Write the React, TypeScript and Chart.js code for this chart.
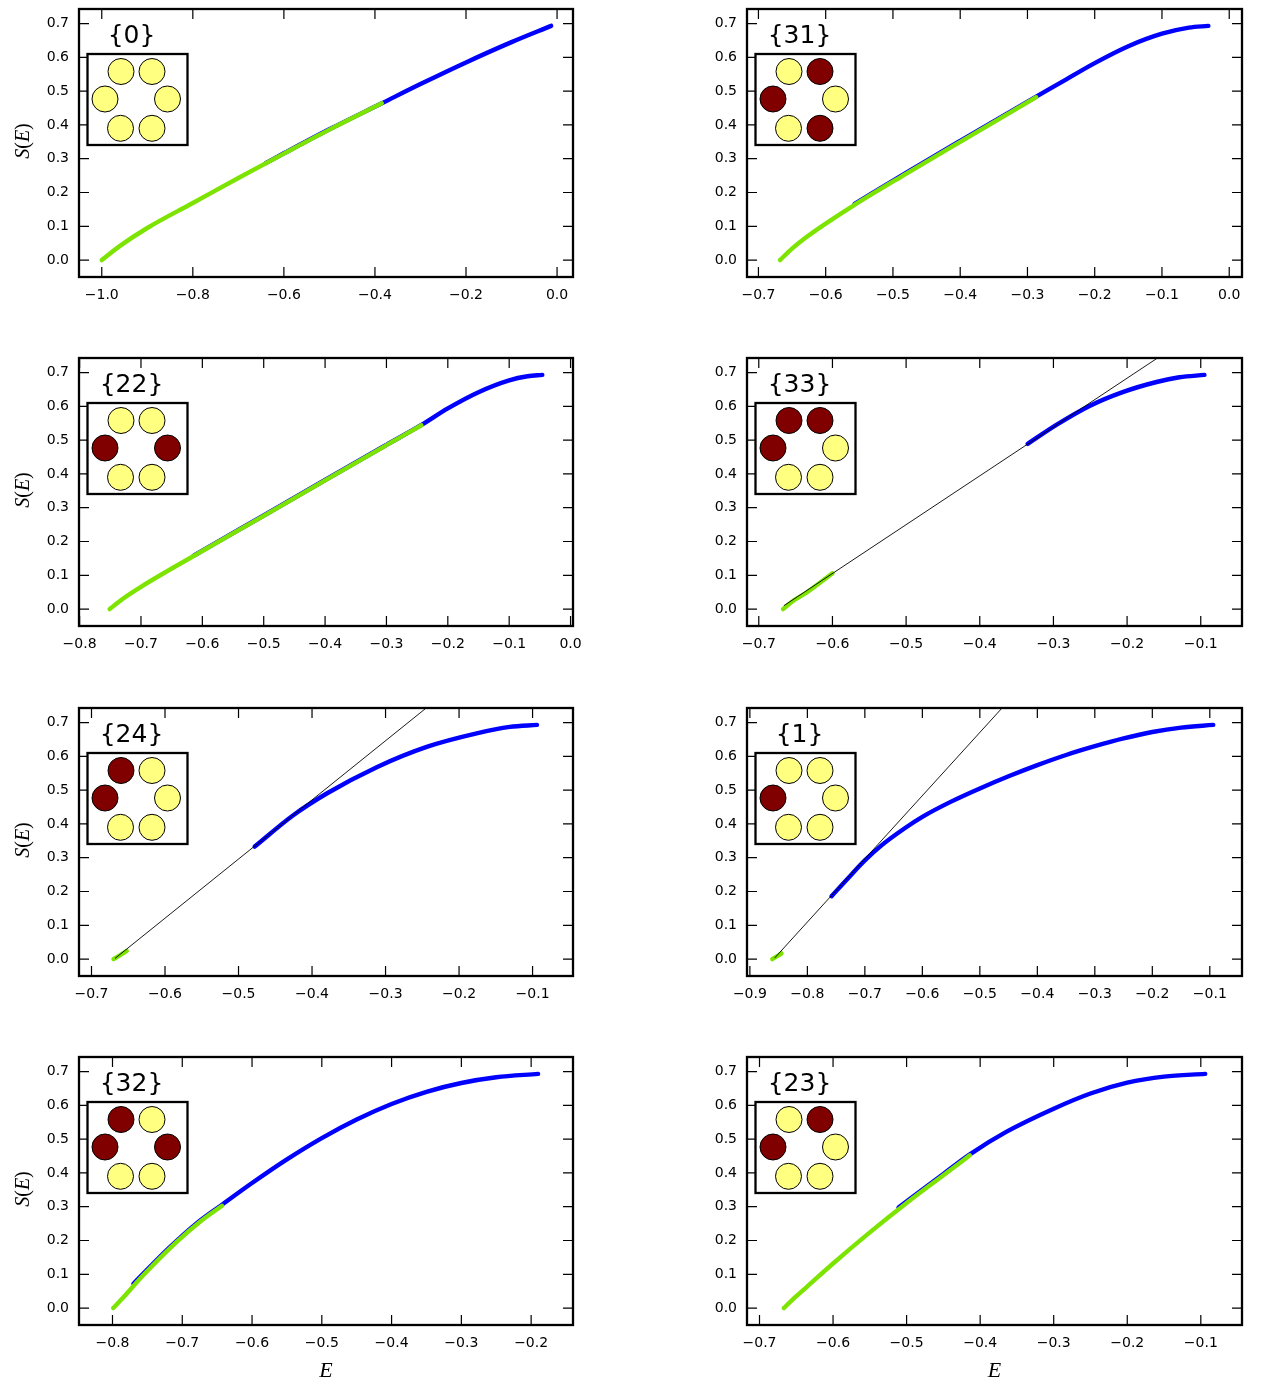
import React, { useEffect, useRef } from 'react';
import { Chart, registerables } from 'chart.js';

Chart.register(...registerables);

// ---------- shared y axis ----------
const yTicks = [0, 0.1, 0.2, 0.3, 0.4, 0.5, 0.6, 0.7];
const yMin = -0.05;
const yMax = 0.743;

// ---------- panel labels ----------
const labels = ['{0}', '{31}', '{22}', '{33}', '{24}', '{1}', '{32}', '{23}'];

// ---------- inset occupation (order: TL, TR, L, R, BL, BR ; 1 = dark) ----------
const dark0 = [0, 0, 0, 0, 0, 0];
const dark31 = [0, 1, 1, 0, 0, 1];
const dark22 = [0, 0, 1, 1, 0, 0];
const dark33 = [1, 1, 1, 0, 0, 0];
const dark24 = [1, 0, 1, 0, 0, 0];
const dark1 = [0, 0, 1, 0, 0, 0];
const dark32 = [1, 0, 1, 1, 0, 0];
const dark23 = [0, 1, 1, 0, 0, 0];

// ---------- x limits and ticks ----------
const xLim0 = [-1.05, 0.035];
const xTicks0 = [-1.0, -0.8, -0.6, -0.4, -0.2, 0.0];
const xLim31 = [-0.717, 0.019];
const xTicks31 = [-0.7, -0.6, -0.5, -0.4, -0.3, -0.2, -0.1, 0.0];
const xLim22 = [-0.801, 0.004];
const xTicks22 = [-0.8, -0.7, -0.6, -0.5, -0.4, -0.3, -0.2, -0.1, 0.0];
const xLim33 = [-0.716, -0.044];
const xTicks33 = [-0.7, -0.6, -0.5, -0.4, -0.3, -0.2, -0.1];
const xLim24 = [-0.717, -0.045];
const xTicks24 = [-0.7, -0.6, -0.5, -0.4, -0.3, -0.2, -0.1];
const xLim1 = [-0.905, -0.044];
const xTicks1 = [-0.9, -0.8, -0.7, -0.6, -0.5, -0.4, -0.3, -0.2, -0.1];
const xLim32 = [-0.848, -0.14];
const xTicks32 = [-0.8, -0.7, -0.6, -0.5, -0.4, -0.3, -0.2];
const xLim23 = [-0.717, -0.044];
const xTicks23 = [-0.7, -0.6, -0.5, -0.4, -0.3, -0.2, -0.1];

// ---------- series: {0} ----------
const greenE0 = [-1.0, -0.96, -0.9, -0.8, -0.7, -0.6, -0.5, -0.385];
const greenS0 = [0.0, 0.042, 0.095, 0.169, 0.243, 0.315, 0.386, 0.464];
const blueE0 = [-0.64, -0.6, -0.5, -0.385, -0.3, -0.2, -0.1, -0.013];
const blueS0 = [0.287, 0.316, 0.387, 0.464, 0.521, 0.585, 0.645, 0.693];

// ---------- series: {31} ----------
const greenE31 = [-0.668, -0.65, -0.63, -0.6, -0.56, -0.48, -0.4, -0.287];
const greenS31 = [0.0, 0.034, 0.066, 0.108, 0.16, 0.256, 0.35, 0.482];
const blueE31 = [-0.557, -0.48, -0.4, -0.287, -0.25, -0.2, -0.15, -0.1, -0.06, -0.031];
const blueS31 = [0.166, 0.259, 0.353, 0.484, 0.526, 0.583, 0.633, 0.67, 0.688, 0.693];

// ---------- series: {22} ----------
const greenE22 = [-0.751, -0.73, -0.7, -0.6, -0.5, -0.4, -0.3, -0.243];
const greenS22 = [0.0, 0.03, 0.066, 0.172, 0.276, 0.381, 0.485, 0.544];
const blueE22 = [-0.614, -0.6, -0.5, -0.4, -0.3, -0.243, -0.2, -0.15, -0.1, -0.07, -0.046];
const blueS22 = [0.158, 0.173, 0.277, 0.382, 0.486, 0.545, 0.594, 0.642, 0.677, 0.689, 0.693];

// ---------- series: {33} ----------
const greenE33 = [-0.667, -0.655, -0.635, -0.6];
const greenS33 = [0.0, 0.022, 0.049, 0.106];
const tangentE33 = [-0.666, -0.095];
const tangentS33 = [0.01, 0.835];
const blueE33 = [-0.335, -0.296, -0.251, -0.206, -0.16, -0.129, -0.095];
const blueS33 = [0.489, 0.545, 0.601, 0.642, 0.672, 0.686, 0.693];

// ---------- series: {24} ----------
const greenE24 = [-0.67, -0.661, -0.652];
const greenS24 = [0.0, 0.012, 0.024];
const tangentE24 = [-0.668, -0.095];
const tangentS24 = [0.002, 1.005];
const blueE24 = [-0.478, -0.426, -0.38, -0.312, -0.244, -0.176, -0.131, -0.094];
const blueS24 = [0.333, 0.425, 0.49, 0.568, 0.628, 0.668, 0.687, 0.693];

// ---------- series: {1} ----------
const greenE1 = [-0.861, -0.853, -0.845];
const greenS1 = [0.0, 0.008, 0.017];
const tangentE1 = [-0.857, -0.094];
const tangentS1 = [0.003, 1.43];
const blueE1 = [-0.758, -0.73, -0.7, -0.67, -0.63, -0.6, -0.55, -0.5, -0.45, -0.4, -0.35, -0.3, -0.25, -0.2, -0.15, -0.094];
const blueS1 = [0.186, 0.238, 0.292, 0.338, 0.388, 0.421, 0.466, 0.505, 0.541, 0.574, 0.604, 0.63, 0.653, 0.672, 0.685, 0.693];

// ---------- series: {32} ----------
const greenE32 = [-0.799, -0.787, -0.756, -0.708, -0.675, -0.643];
const greenS32 = [0.0, 0.026, 0.097, 0.196, 0.255, 0.303];
const blueE32 = [-0.77, -0.72, -0.68, -0.643, -0.6, -0.55, -0.5, -0.45, -0.4, -0.35, -0.3, -0.25, -0.19];
const blueS32 = [0.072, 0.176, 0.25, 0.306, 0.37, 0.44, 0.503, 0.558, 0.604, 0.64, 0.666, 0.683, 0.693];

// ---------- series: {23} ----------
const greenE23 = [-0.667, -0.655, -0.636, -0.6, -0.55, -0.5, -0.45, -0.414];
const greenS23 = [0.0, 0.025, 0.062, 0.132, 0.224, 0.311, 0.393, 0.452];
const blueE23 = [-0.511, -0.45, -0.414, -0.364, -0.3, -0.25, -0.2, -0.15, -0.094];
const blueS23 = [0.298, 0.397, 0.455, 0.522, 0.59, 0.635, 0.667, 0.685, 0.693];

type Panel = {
  label: string;
  dark: number[];
  xLim: number[];
  xTicks: number[];
  blue: number[][];
  green: number[][];
  tangent: number[][] | null;
};

const panels: Panel[] = [
  { label: labels[0], dark: dark0, xLim: xLim0, xTicks: xTicks0, blue: [blueE0, blueS0], green: [greenE0, greenS0], tangent: null },
  { label: labels[1], dark: dark31, xLim: xLim31, xTicks: xTicks31, blue: [blueE31, blueS31], green: [greenE31, greenS31], tangent: null },
  { label: labels[2], dark: dark22, xLim: xLim22, xTicks: xTicks22, blue: [blueE22, blueS22], green: [greenE22, greenS22], tangent: null },
  { label: labels[3], dark: dark33, xLim: xLim33, xTicks: xTicks33, blue: [blueE33, blueS33], green: [greenE33, greenS33], tangent: [tangentE33, tangentS33] },
  { label: labels[4], dark: dark24, xLim: xLim24, xTicks: xTicks24, blue: [blueE24, blueS24], green: [greenE24, greenS24], tangent: [tangentE24, tangentS24] },
  { label: labels[5], dark: dark1, xLim: xLim1, xTicks: xTicks1, blue: [blueE1, blueS1], green: [greenE1, greenS1], tangent: [tangentE1, tangentS1] },
  { label: labels[6], dark: dark32, xLim: xLim32, xTicks: xTicks32, blue: [blueE32, blueS32], green: [greenE32, greenS32], tangent: null },
  { label: labels[7], dark: dark23, xLim: xLim23, xTicks: xTicks23, blue: [blueE23, blueS23], green: [greenE23, greenS23], tangent: null },
];

// ---------- layout (styles) ----------
const COL_LEFT = [79, 747];
const COL_W = [494, 495];
const ROW_TOP = [9, 358, 708, 1057];
const AREA_H = 268;
const Y_AXIS_W = 79;
const X_AXIS_H = 40;
const PAD_TOP = 22;
const PAD_RIGHT = 25;

const BLUE = '#0000ff';
const GREEN = '#7ce400';
const DARK = '#800000';
const LIGHT = '#ffff80';
const TICK_FONT = { family: '"DejaVu Sans", sans-serif', size: 14 };

// circle centres inside the inset box (TL, TR, L, R, BL, BR)
const CIRCLES = [
  [33.5, 17.5],
  [64.5, 17.5],
  [17.5, 45],
  [80, 45],
  [33, 74.3],
  [64.5, 74.3],
];

const fmt = (v: number) => {
  const r = Math.round(v * 10) / 10;
  if (r === 0) return '0.0';
  return (r < 0 ? '\u2212' : '') + Math.abs(r).toFixed(1);
};

const toPts = (E: number[], S: number[]) => E.map((e, i) => ({ x: e, y: S[i] }));

function makeDecor(p: Panel) {
  return {
    id: 'decor',
    afterDraw(chart: any) {
      const { ctx, chartArea: a } = chart;
      const xs = chart.scales.x;
      const ys = chart.scales.y;
      ctx.save();
      ctx.strokeStyle = '#000';
      ctx.lineWidth = 1.2;
      ctx.beginPath();
      for (const t of xs.ticks) {
        const px = xs.getPixelForValue(t.value);
        ctx.moveTo(px, a.bottom);
        ctx.lineTo(px, a.bottom - 10);
        ctx.moveTo(px, a.top);
        ctx.lineTo(px, a.top + 10);
      }
      for (const t of ys.ticks) {
        const py = ys.getPixelForValue(t.value);
        ctx.moveTo(a.left, py);
        ctx.lineTo(a.left + 10, py);
        ctx.moveTo(a.right, py);
        ctx.lineTo(a.right - 10, py);
      }
      ctx.stroke();
      ctx.lineWidth = 2.3;
      ctx.strokeRect(a.left, a.top, a.right - a.left, a.bottom - a.top);

      // inset box
      const bx = a.left + 8.5;
      const by = a.top + 45;
      ctx.fillStyle = '#fff';
      ctx.fillRect(bx, by, 100, 91);
      ctx.lineWidth = 2.3;
      ctx.strokeRect(bx, by, 100, 91);
      ctx.lineWidth = 1;
      CIRCLES.forEach(([cx, cy], k) => {
        ctx.beginPath();
        ctx.arc(bx + cx, by + cy, 13, 0, Math.PI * 2);
        ctx.fillStyle = p.dark[k] ? DARK : LIGHT;
        ctx.fill();
        ctx.stroke();
      });
      ctx.fillStyle = '#000';
      ctx.font = '25px "DejaVu Sans", sans-serif';
      ctx.textAlign = 'center';
      ctx.textBaseline = 'middle';
      ctx.fillText(p.label, bx + 44, a.top + 27);
      ctx.restore();
    },
  };
}

function PanelChart({ p, idx }: { p: Panel; idx: number }) {
  const ref = useRef<HTMLCanvasElement | null>(null);
  const row = Math.floor(idx / 2);
  const col = idx % 2;
  const width = Y_AXIS_W + COL_W[col] + PAD_RIGHT;
  const height = PAD_TOP + AREA_H + X_AXIS_H;

  useEffect(() => {
    if (!ref.current) return;
    const common = {
      showLine: true,
      pointRadius: 0,
      pointHoverRadius: 0,
      fill: false,
      borderCapStyle: 'round',
      borderJoinStyle: 'round',
    };
    const datasets: any[] = [];
    if (p.tangent) {
      datasets.push({ ...common, data: toPts(p.tangent[0], p.tangent[1]), borderColor: '#000', borderWidth: 0.9, borderCapStyle: 'butt', order: 0 });
    }
    datasets.push({ ...common, data: toPts(p.green[0], p.green[1]), borderColor: GREEN, borderWidth: 4.4, cubicInterpolationMode: 'monotone', order: 1 });
    datasets.push({ ...common, data: toPts(p.blue[0], p.blue[1]), borderColor: BLUE, borderWidth: 4.4, cubicInterpolationMode: 'monotone', order: 2 });

    const chart = new Chart(ref.current, {
      type: 'scatter',
      data: { datasets },
      options: {
        animation: false,
        responsive: false,
        events: [],
        layout: { padding: { left: 0, top: PAD_TOP, right: PAD_RIGHT, bottom: 0 } },
        plugins: { legend: { display: false }, tooltip: { enabled: false } },
        scales: {
          x: {
            type: 'linear',
            min: p.xLim[0],
            max: p.xLim[1],
            afterBuildTicks: (s: any) => {
              s.ticks = p.xTicks.map((v) => ({ value: v }));
            },
            afterFit: (s: any) => {
              s.height = X_AXIS_H;
            },
            grid: { display: false, drawTicks: false },
            border: { display: false },
            ticks: {
              autoSkip: false,
              maxRotation: 0,
              minRotation: 0,
              padding: 10,
              color: '#000',
              font: TICK_FONT,
              callback: (v: any) => fmt(Number(v)),
            },
          },
          y: {
            type: 'linear',
            min: yMin,
            max: yMax,
            afterBuildTicks: (s: any) => {
              s.ticks = yTicks.map((v) => ({ value: v }));
            },
            afterFit: (s: any) => {
              s.width = Y_AXIS_W;
            },
            grid: { display: false, drawTicks: false },
            border: { display: false },
            ticks: {
              autoSkip: false,
              padding: 10,
              color: '#000',
              font: TICK_FONT,
              callback: (v: any) => fmt(Number(v)),
            },
          },
        },
      } as any,
      plugins: [makeDecor(p)],
    } as any);
    return () => chart.destroy();
  }, [p]);

  return (
    <canvas
      ref={ref}
      width={width}
      height={height}
      style={{
        position: 'absolute',
        left: COL_LEFT[col] - Y_AXIS_W,
        top: ROW_TOP[row] - PAD_TOP,
        width,
        height,
      }}
    />
  );
}

export default function App() {
  const serif = '"Liberation Serif", "DejaVu Serif", serif';
  return (
    <div style={{ position: 'absolute', left: 0, top: 0, width: 1262, height: 1382, background: '#fff', overflow: 'hidden' }}>
      {panels.map((p, i) => (
        <PanelChart key={i} p={p} idx={i} />
      ))}
      {ROW_TOP.map((t, r) => (
        <div
          key={'yl' + r}
          style={{
            position: 'absolute',
            left: 22,
            top: t + AREA_H / 2 - 2,
            transform: 'translate(-50%, -50%) rotate(-90deg)',
            fontFamily: serif,
            fontSize: 20,
            whiteSpace: 'nowrap',
            lineHeight: 1,
            color: '#000',
          }}
        >
          <i>S</i>(<i>E</i>)
        </div>
      ))}
      {COL_LEFT.map((l, c) => (
        <div
          key={'xl' + c}
          style={{
            position: 'absolute',
            left: l + COL_W[c] / 2,
            top: 1370,
            transform: 'translate(-50%, -50%)',
            fontFamily: serif,
            fontSize: 22,
            fontStyle: 'italic',
            whiteSpace: 'nowrap',
            lineHeight: 1,
            color: '#000',
          }}
        >
          E
        </div>
      ))}
    </div>
  );
}
